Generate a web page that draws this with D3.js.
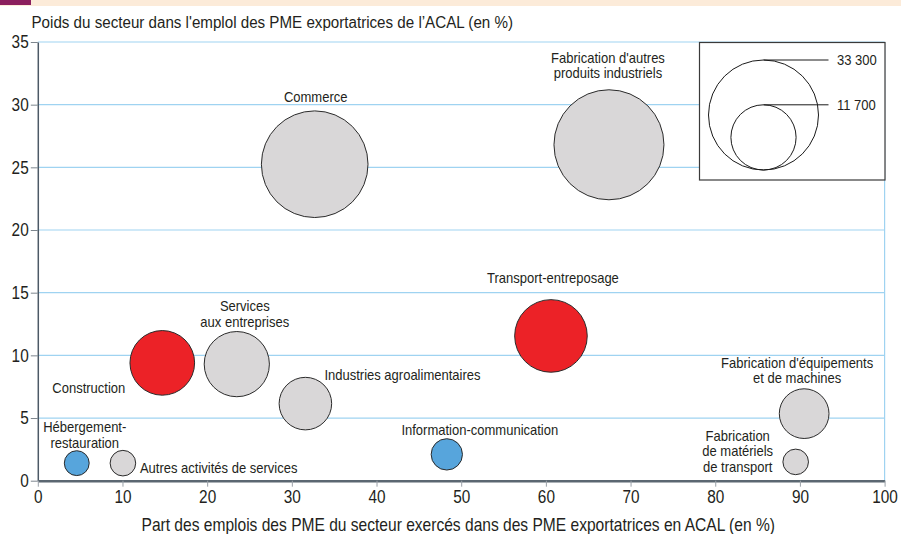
<!DOCTYPE html>
<html>
<head>
<meta charset="utf-8">
<script src="https://cdn.jsdelivr.net/npm/d3@7"></script>
<style>
  html, body { margin: 0; padding: 0; background: #fff; }
  svg { display: block; }
  text { font-family: 'Liberation Sans', Arial, Helvetica, sans-serif; fill: #231f20; }
</style>
</head>
<body>
<svg id="chart" width="901" height="534"></svg>
<script>
(function () {
  'use strict'

  // sectors
  var sectors = [
    'Commerce',
    'Fabrication d\'autres produits industriels',
    'Transport-entreposage',
    'Construction',
    'Services aux entreprises',
    'Industries agroalimentaires',
    'Fabrication d\'équipements et de machines',
    'Information-communication',
    'Hébergement-restauration',
    'Autres activités de services',
    'Fabrication de matériels de transport'
  ]
  // x: share of sector SME jobs in exporting SMEs (%)
  var shareExport = [32.7, 67.45, 60.6, 14.7, 23.5, 31.6, 90.5, 48.3, 4.6, 10.05, 89.5]
  // y: weight of the sector in exporting SME employment (%)
  var weightEmploy = [25.25, 26.8, 11.55, 9.4, 9.3, 6.15, 5.35, 2.1, 1.4, 1.4, 1.5]
  // bubble size: employees
  var employees = [31300, 33300, 14500, 11500, 11700, 7600, 6800, 2700, 1700, 1800, 1800]
  // colour group
  var group = ['g', 'g', 'r', 'r', 'g', 'g', 'g', 'b', 'b', 'g', 'g']

  var labelLines = [
    ['Commerce'],
    ['Fabrication d\'autres', 'produits industriels'],
    ['Transport-entreposage'],
    ['Construction'],
    ['Services', 'aux entreprises'],
    ['Industries agroalimentaires'],
    ['Fabrication d\'équipements', 'et de machines'],
    ['Information-communication'],
    ['Hébergement-', 'restauration'],
    ['Autres activités de services'],
    ['Fabrication', 'de matériels', 'de transport']
  ]

  var xTicks = [0, 10, 20, 30, 40, 50, 60, 70, 80, 90, 100]
  var yTicks = [0, 5, 10, 15, 20, 25, 30, 35]
  var legendValues = [33300, 11700]
  var legendLabels = ['33 300', '11 700']

  var xTitle = 'Part des emplois des PME du secteur exercés dans des PME exportatrices en ACAL (en %)'
  var yTitle = 'Poids du secteur dans l\'emplol des PME exportatrices de l’ACAL (en %)'

  // label placement (pixels relative to bubble centre)
  var labelDx = [1, -1, 2, -37, 8, 19, -7, 33, 8, 17, -58]
  var labelDy = [-62, -82, -53, 30, -53, -24, -46, -19, -31, 9.5, -21]
  var labelAnchor = ['middle', 'middle', 'middle', 'end', 'middle', 'start', 'middle', 'middle', 'middle', 'start', 'middle']
  var lineHeight = 15.6

  var colors = { g: '#d9d7d8', r: '#ec2227', b: '#57a5dc' }

  // the original type is a condensed grotesque: squeeze Liberation Sans horizontally
  function squeezed (parent, px, py, sx) {
    return parent.append('g')
      .attr('transform', 'translate(' + px + ',' + py + ') scale(' + sx + ',1)')
      .append('text')
  }

  var svg = d3.select('#chart')

  // top band
  svg.append('rect').attr('x', 0).attr('y', 0).attr('width', 901).attr('height', 6).attr('fill', '#fcebd9')
  svg.append('rect').attr('x', 0).attr('y', 0).attr('width', 31).attr('height', 5).attr('fill', '#8b1f5e')

  var x = d3.scaleLinear().domain([0, 100]).range([37.8, 884.6])
  var y = d3.scaleLinear().domain([0, 35]).range([480.7, 42])
  var r = d3.scaleSqrt().domain([0, 33300]).range([0, 55])

  // grid
  svg.append('g')
    .selectAll('line')
    .data(yTicks.filter(function (d) { return d > 0 }))
    .enter().append('line')
    .attr('x1', x(0)).attr('x2', x(100))
    .attr('y1', function (d) { return y(d) }).attr('y2', function (d) { return y(d) })
    .attr('stroke', '#9fd3f1').attr('stroke-width', 1.2)

  svg.append('line')
    .attr('x1', x(100)).attr('x2', x(100))
    .attr('y1', y(35)).attr('y2', y(0))
    .attr('stroke', '#9fd3f1').attr('stroke-width', 1.2)

  // axes
  var yAxis = d3.axisLeft(y).tickValues(yTicks).tickSize(7).tickPadding(4).tickSizeOuter(0)
  var gy = svg.append('g').attr('transform', 'translate(' + x(0) + ',0)').call(yAxis)
  gy.select('.domain').attr('stroke', '#4c5966').attr('stroke-width', 1.5)
  gy.selectAll('.tick line').attr('stroke', '#7d868e')
  gy.selectAll('.tick text')
    .attr('fill', '#231f20')
    .style('font-size', '18.5px')
    .attr('transform', 'scale(0.83,1)')

  var xAxis = d3.axisBottom(x).tickValues(xTicks).tickSize(6).tickPadding(3).tickSizeOuter(0)
  var gx = svg.append('g').attr('transform', 'translate(0,' + y(0) + ')').call(xAxis)
  gx.select('.domain').attr('stroke', '#5b6771').attr('stroke-width', 2.5)
  gx.selectAll('.tick line').attr('stroke', '#9aa1a8')
  gx.selectAll('.tick text')
    .attr('fill', '#231f20')
    .style('font-size', '18.5px')
    .attr('transform', 'scale(0.83,1)')
  svg.selectAll('.tick text').style('font-family', '\'Liberation Sans\', Arial, sans-serif')

  // titles
  squeezed(svg, 31.5, 28, 0.96)
    .style('font-size', '15.8px')
    .text(yTitle)

  squeezed(svg, (x(0) + x(100)) / 2 - 3, 531, 0.88)
    .attr('text-anchor', 'middle')
    .style('font-size', '17.7px')
    .text(xTitle)

  // bubbles
  var idx = d3.range(sectors.length)
  svg.append('g')
    .selectAll('circle')
    .data(idx)
    .enter().append('circle')
    .attr('cx', function (i) { return x(shareExport[i]) })
    .attr('cy', function (i) { return y(weightEmploy[i]) })
    .attr('r', function (i) { return r(employees[i]) })
    .attr('fill', function (i) { return colors[group[i]] })
    .attr('stroke', '#2b2b2b')
    .attr('stroke-width', 1)

  // labels
  var lbl = svg.append('g')
  idx.forEach(function (i) {
    var t = squeezed(lbl, x(shareExport[i]) + labelDx[i], y(weightEmploy[i]) + labelDy[i], 0.93)
      .attr('text-anchor', labelAnchor[i])
      .style('font-size', '14px')
    t.selectAll('tspan')
      .data(labelLines[i])
      .enter().append('tspan')
      .attr('x', 0)
      .attr('y', function (d, k) { return k * lineHeight })
      .text(function (d) { return d })
  })

  // legend
  var lg = svg.append('g')
  lg.append('rect')
    .attr('x', 699.5).attr('y', 42.5).attr('width', 185.5).attr('height', 137.5)
    .attr('fill', '#fff').attr('stroke', '#3a3a3a').attr('stroke-width', 1.2)
  var lcx = 763.5
  var lbase = 170
  lg.selectAll('circle')
    .data(legendValues)
    .enter().append('circle')
    .attr('cx', lcx)
    .attr('cy', function (d) { return lbase - r(d) })
    .attr('r', function (d) { return r(d) })
    .attr('fill', 'none')
    .attr('stroke', '#1a1a1a')
    .attr('stroke-width', 1)
  lg.selectAll('line')
    .data(legendValues)
    .enter().append('line')
    .attr('x1', lcx).attr('x2', 828.5)
    .attr('y1', function (d) { return lbase - 2 * r(d) })
    .attr('y2', function (d) { return lbase - 2 * r(d) })
    .attr('stroke', '#1a1a1a').attr('stroke-width', 1)
  legendValues.forEach(function (d, i) {
    squeezed(lg, 837, lbase - 2 * r(d) + 4.8, 0.93)
      .style('font-size', '14px')
      .text(legendLabels[i])
  })
})()
</script>
</body>
</html>
